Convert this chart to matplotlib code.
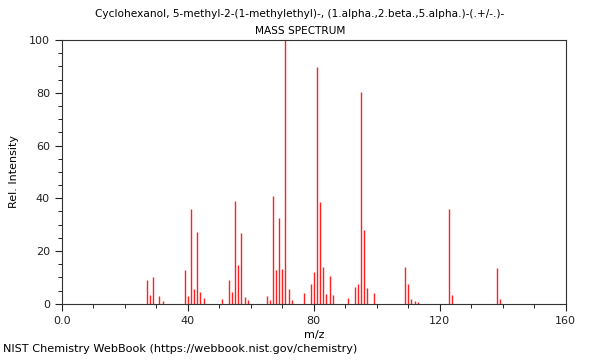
import matplotlib
matplotlib.use('Agg')

import matplotlib.pyplot as plt
from matplotlib.ticker import MultipleLocator

# peak list (m/z, relative intensity)
mz = [27, 28, 29, 31, 32, 39, 40, 41, 42, 43, 44, 45,
      51, 53, 54, 55, 56, 57, 58, 59, 65, 66, 67, 68, 69, 70, 71, 72, 73,
      77, 79, 80, 81, 82, 83, 84, 85, 86, 91, 93, 94, 95, 96, 97, 99,
      109, 110, 111, 112, 113, 123, 124, 138, 139]
intensity = [9.1, 3.4, 10.3, 2.8, 1.1, 12.9, 2.8, 36.0, 5.7, 27.1, 4.3, 2.1,
             1.8, 9.1, 4.3, 39.0, 14.8, 26.8, 2.5, 1.3, 3.0, 1.3, 40.9, 12.9, 32.7, 13.1, 100.0, 5.6, 1.3,
             4.0, 7.6, 12.2, 89.9, 38.5, 14.1, 3.7, 10.4, 3.4, 2.4, 6.3, 7.6, 80.2, 28.0, 5.9, 4.0,
             13.9, 7.6, 1.8, 1.1, 0.8, 35.8, 3.4, 13.5, 1.8]

x_ticks = [0, 40, 80, 120, 160]
x_tick_labels = ["0.0", "40", "80", "120", "160"]
y_ticks = [0, 20, 40, 60, 80, 100]

fig = plt.figure(figsize=(6, 3.6), dpi=100)
ax = fig.add_axes([0.103, 0.156, 0.84, 0.733])

ax.vlines(mz, 0, intensity, colors='#ff2020', linewidth=1.0)

ax.set_xlim(0, 160)
ax.set_ylim(0, 100)
ax.set_xticks(x_ticks)
ax.set_xticklabels(x_tick_labels)
ax.set_yticks(y_ticks)
ax.xaxis.set_minor_locator(MultipleLocator(10))
ax.yaxis.set_minor_locator(MultipleLocator(5))
ax.tick_params(labelsize=8, length=5, width=0.8, colors='#222222')
ax.tick_params(which='minor', length=3, width=0.6)
for s in ax.spines.values():
    s.set_linewidth(0.8)
    s.set_color('#333333')

ax.set_xlabel("m/z", fontsize=8, labelpad=3)
ax.set_ylabel("Rel. Intensity", fontsize=8)
ax.yaxis.set_label_coords(-0.085, 0.5)

fig.text(0.5, 0.96, "Cyclohexanol, 5-methyl-2-(1-methylethyl)-, (1.alpha.,2.beta.,5.alpha.)-(.+/-.)-",
         ha='center', va='center', fontsize=7.6)
fig.text(0.5, 0.915, "MASS SPECTRUM", ha='center', va='center', fontsize=7.6)
fig.text(0.005, 0.018, "NIST Chemistry WebBook (https://webbook.nist.gov/chemistry)",
         ha='left', va='bottom', fontsize=8.15)

plt.savefig("out.png", dpi=100)
